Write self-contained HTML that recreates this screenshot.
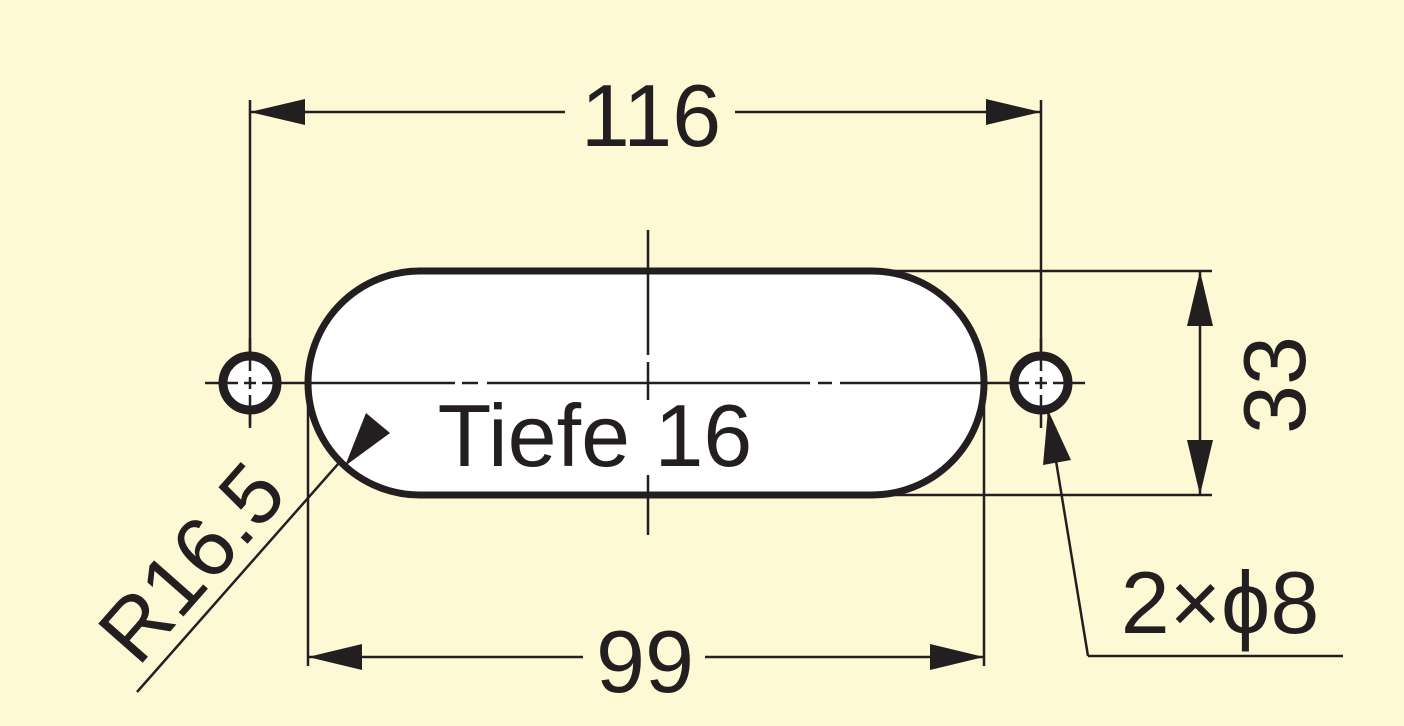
<!DOCTYPE html>
<html><head><style>
html,body{margin:0;padding:0;background:#FEF9D5;}
svg{display:block;}
text{font-family:"Liberation Sans",sans-serif;fill:#231F20;}
</style></head><body>
<svg width="1404" height="726" viewBox="0 0 1404 726" xmlns="http://www.w3.org/2000/svg">
<rect width="1404" height="726" fill="#FEF9D5"/>
<g stroke="#231F20" fill="none" stroke-width="2.5">
<line x1="250" y1="100" x2="250" y2="425"/>
<line x1="1041" y1="100" x2="1041" y2="350"/>
<line x1="308" y1="390" x2="308" y2="666"/>
<line x1="984" y1="390" x2="984" y2="666"/>
<line x1="870" y1="271" x2="1212" y2="271"/>
<line x1="870" y1="495" x2="1212" y2="495"/>
<line x1="250" y1="112" x2="565" y2="112"/>
<line x1="735" y1="112" x2="1041" y2="112"/>
<line x1="308" y1="657" x2="583" y2="657"/>
<line x1="705" y1="657" x2="984" y2="657"/>
<line x1="1200" y1="271" x2="1200" y2="495"/>
<line x1="405" y1="388" x2="137" y2="692"/>
<line x1="1048" y1="412" x2="1088" y2="656"/>
<line x1="1088" y1="656" x2="1343" y2="656"/>
</g>
<path d="M420 271 H872 A112 112 0 0 1 872 495 H420 A112 112 0 0 1 420 271 Z" fill="#fff" stroke="#231F20" stroke-width="7"/>
<circle cx="250" cy="383" r="27" fill="#fff" stroke="#231F20" stroke-width="9"/>
<circle cx="1041" cy="383" r="27" fill="#fff" stroke="#231F20" stroke-width="9"/>
<g stroke="#231F20" stroke-width="2.5" fill="none">
<line x1="205" y1="383" x2="238" y2="383"/>
<line x1="244" y1="383" x2="256" y2="383"/>
<line x1="262" y1="383" x2="455" y2="383"/>
<line x1="462" y1="383" x2="478" y2="383"/>
<line x1="487" y1="383" x2="810" y2="383"/>
<line x1="818" y1="383" x2="832" y2="383"/>
<line x1="840" y1="383" x2="1029" y2="383"/>
<line x1="1035" y1="383" x2="1047" y2="383"/>
<line x1="1053" y1="383" x2="1085" y2="383"/>
<line x1="250" y1="338" x2="250" y2="371"/>
<line x1="250" y1="377" x2="250" y2="389"/>
<line x1="250" y1="395" x2="250" y2="428"/>
<line x1="1041" y1="338" x2="1041" y2="371"/>
<line x1="1041" y1="377" x2="1041" y2="389"/>
<line x1="1041" y1="395" x2="1041" y2="428"/>
<line x1="648" y1="230" x2="648" y2="355"/>
<line x1="648" y1="362" x2="648" y2="400"/>
<line x1="648" y1="475" x2="648" y2="535"/>
</g>
<g fill="#231F20">
<polygon points="250,112 305,99 305,125"/>
<polygon points="1041,112 986,99 986,125"/>
<polygon points="308,657 362,644 362,670"/>
<polygon points="984,657 930,644 930,670"/>
<polygon points="1200,271 1187,326 1213,326"/>
<polygon points="1200,495 1187,440 1213,440"/>
<polygon points="345,466 390,433 366,413"/>
<polygon points="1048,410 1043,465 1071,460"/>
</g>
<text x="651" y="146" font-size="88" text-anchor="middle">116</text>
<text x="645" y="692" font-size="88" text-anchor="middle">99</text>
<text x="1220" y="633" font-size="88" text-anchor="middle">2×ϕ8</text>
<text x="595" y="466" font-size="88" text-anchor="middle">Tiefe 16</text>
<text transform="translate(1305,385) rotate(-90)" font-size="88" text-anchor="middle">33</text>
<text transform="translate(138,668) rotate(-48.6)" font-size="86">R16.5</text>
</svg>
</body></html>
